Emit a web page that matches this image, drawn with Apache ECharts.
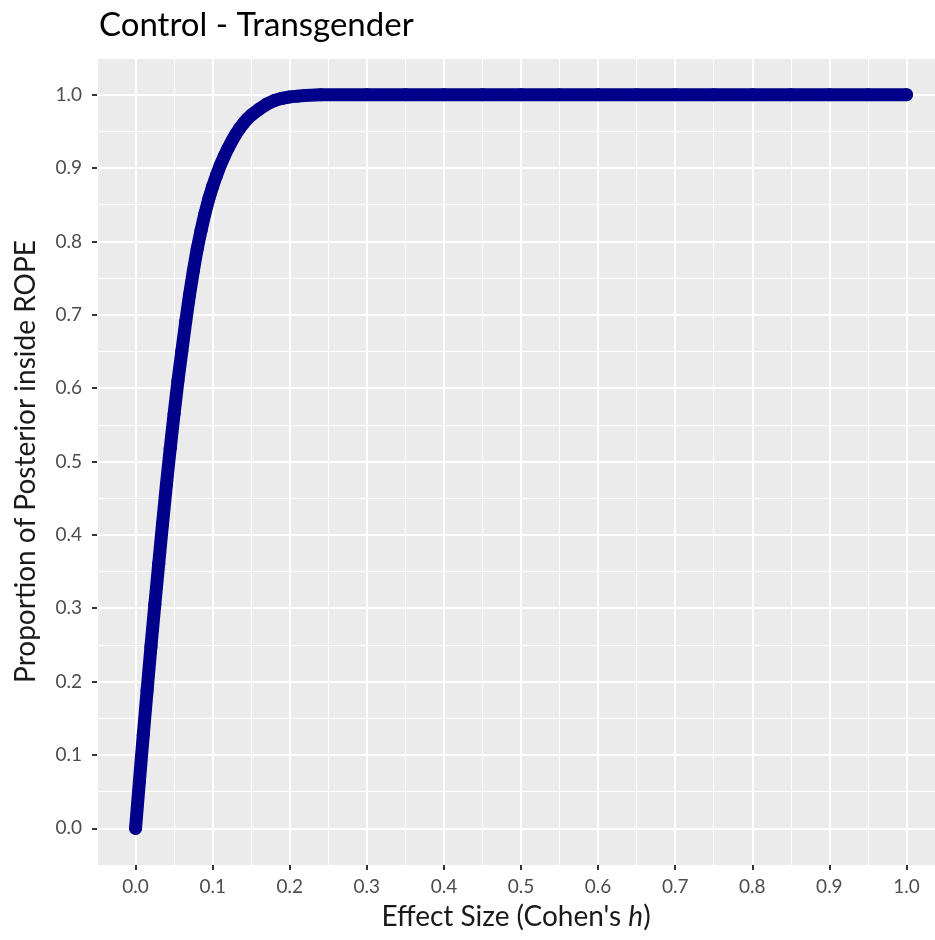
<!DOCTYPE html>
<html>
<head>
<meta charset="utf-8">
<script src="https://cdn.jsdelivr.net/npm/echarts@6/dist/echarts.min.js"></script>
<style>
  html, body { margin: 0; padding: 0; background: #fff; }
  #main { width: 935px; height: 940px; }
</style>
</head>
<body>
<div id="main"></div>
<script>
// effect size (x) and proportion of posterior inside ROPE (y)
let effectSize = [
    0, 0.005, 0.01, 0.015, 0.02, 0.025, 0.03, 0.035, 0.04, 0.045,
    0.05, 0.055, 0.06, 0.065, 0.07, 0.075, 0.08, 0.085, 0.09, 0.095,
    0.1, 0.105, 0.11, 0.115, 0.12, 0.125, 0.13, 0.135, 0.14, 0.145,
    0.15, 0.16, 0.17, 0.18, 0.19, 0.2, 0.21, 0.22, 0.24,
    0.3, 0.35, 0.4, 0.45, 0.5, 0.55, 0.6, 0.65, 0.7, 0.75, 0.8, 0.85, 0.9, 0.95, 1.0
];
let propInRope = [
    0, 0.064, 0.127, 0.188, 0.248, 0.305, 0.36, 0.415, 0.468, 0.518,
    0.565, 0.61, 0.65, 0.69, 0.727, 0.76, 0.79, 0.815, 0.838, 0.858,
    0.875, 0.89, 0.904, 0.916, 0.927, 0.937, 0.946, 0.954, 0.961, 0.967,
    0.972, 0.98, 0.987, 0.992, 0.995, 0.997, 0.998, 0.999, 1.0,
    1.0, 1.0, 1.0, 1.0, 1.0, 1.0, 1.0, 1.0, 1.0, 1.0, 1.0, 1.0, 1.0, 1.0, 1.0
];
let majorTicks = [0, 0.1, 0.2, 0.3, 0.4, 0.5, 0.6, 0.7, 0.8, 0.9, 1.0];

let fontName = 'Lato';
let navy = '#00008B';

let points = effectSize.map(function (x, i) { return [x, propInRope[i]]; });

// minor grid lines sit half way between the major breaks
function minorAxis(max) {
    return {
        type: 'value', min: -0.05, max: max, interval: 0.1,
        axisLine: {show: false, onZero: false}, axisTick: {show: false}, axisLabel: {show: false},
        splitLine: {show: true, lineStyle: {color: '#ffffff', width: 1}}
    };
}

function majorAxis(name, isX, max) {
    return {
        type: 'value', min: -0.05, max: max,
        name: name,
        nameLocation: 'middle',
        nameGap: isX ? 38 : 57,
        nameTextStyle: {
            color: '#1a1a1a', fontSize: 28, fontFamily: fontName,
            rich: {i: {fontStyle: 'italic', fontSize: 28, fontFamily: fontName, color: '#1a1a1a'}}
        },
        axisLine: {show: false, onZero: false},
        axisTick: {show: true, length: 5, customValues: majorTicks, lineStyle: {color: '#333333', width: 2}},
        axisLabel: {
            show: true, customValues: majorTicks, color: '#4d4d4d', fontSize: 19, fontFamily: fontName,
            margin: isX ? 12 : 15,
            formatter: function (v) { return v.toFixed(1); }
        },
        splitLine: {show: true, lineStyle: {color: '#ffffff', width: 2}}
    };
}

let option = {
    animation: false,
    backgroundColor: '#ffffff',
    title: {
        text: 'Control - Transgender',
        left: 94,
        top: 4,
        textStyle: {color: '#000000', fontSize: 33, fontWeight: 'normal', fontFamily: fontName}
    },
    grid: {
        left: 97, top: 58, bottom: 75, right: 0,
        show: true, backgroundColor: '#ebebeb', borderWidth: 0
    },
    // the panel runs past the right edge of the picture
    xAxis: [
        Object.assign(minorAxis(1.037), {position: 'bottom'}),
        Object.assign(majorAxis("Effect Size (Cohen's {i|h})", true, 1.037), {position: 'bottom'})
    ],
    yAxis: [
        Object.assign(minorAxis(1.05), {position: 'left'}),
        Object.assign(majorAxis('Proportion of Posterior inside ROPE', false, 1.05), {position: 'left'})
    ],
    series: [
        {
            type: 'line',
            xAxisIndex: 1,
            yAxisIndex: 1,
            data: points,
            symbol: 'circle',
            symbolSize: 13,
            showSymbol: true,
            itemStyle: {color: navy},
            lineStyle: {color: navy, width: 13, cap: 'round', join: 'round'}
        }
    ]
};

let myChart = echarts.init(document.getElementById('main'));
myChart.setOption(option);
</script>
</body>
</html>
